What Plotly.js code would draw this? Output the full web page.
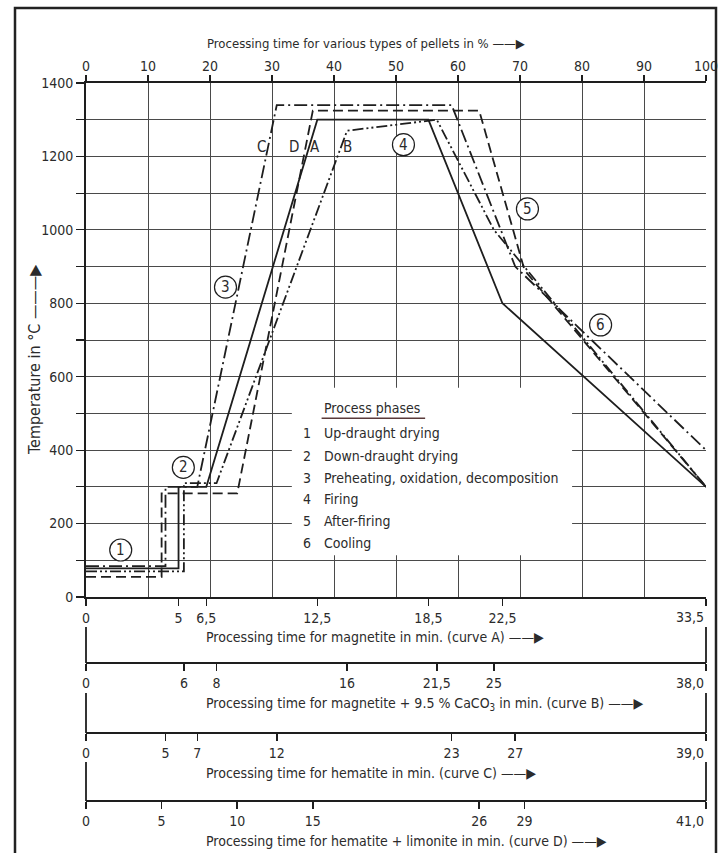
<!DOCTYPE html>
<html>
<head>
<meta charset="utf-8">
<script src="https://cdn.plot.ly/plotly-3.0.1.min.js"></script>
<style>
  html, body { margin: 0; padding: 0; background: #fff; }
  #chart { width: 718px; height: 853px; }
</style>
</head>
<body>
<div id="chart"></div>
<script>
// ---------- data ----------
// top scale: processing time in %
const pctTicks = [0, 10, 20, 30, 40, 50, 60, 70, 80, 90, 100];
const pctLabels = ['0', '10', '20', '30', '40', '50', '60', '70', '80', '90', '100'];

// temperature scale
const tempTicks = [0, 100, 200, 300, 400, 500, 600, 700, 800, 900, 1000, 1100, 1200, 1300, 1400];
const tempLabels = ['0', '', '200', '', '400', '', '600', '', '800', '', '1000', '', '1200', '', '1400'];

// curve A – magnetite (minutes, total 33.5)
const timeA = [0, 5, 5, 6.5, 12.5, 18.5, 22.5, 33.5];
const tempA = [78, 78, 300, 300, 1300, 1300, 800, 300];
const ticksA = [0, 5, 6.5, 12.5, 18.5, 22.5, 33.5];
const labelsA = ['0', '5', '6,5', '12,5', '18,5', '22,5', ' '];
const endA = '33,5';

// curve B – magnetite + 9.5 % CaCO3 (minutes, total 38)
const timeB = [0, 6, 6, 8, 16, 21.5, 25, 38];
const tempB = [70, 70, 310, 310, 1270, 1300, 1000, 300];
const ticksB = [0, 6, 8, 16, 21.5, 25, 38];
const labelsB = ['0', '6', '8', '16', '21,5', '25', ' '];
const endB = '38,0';

// curve C – hematite (minutes, total 39)
const timeC = [0, 5, 5, 7, 12, 23, 27, 39];
const tempC = [84, 84, 300, 300, 1340, 1340, 900, 400];
const ticksC = [0, 5, 7, 12, 23, 27, 39];
const labelsC = ['0', '5', '7', '12', '23', '27', ' '];
const endC = '39,0';

// curve D – hematite + limonite (minutes, total 41)
const timeD = [0, 5, 5, 10, 15, 26, 29, 41];
const tempD = [55, 55, 282, 282, 1325, 1325, 890, 300];
const ticksD = [0, 5, 10, 15, 26, 29, 41];
const labelsD = ['0', '5', '10', '15', '26', '29', ' '];
const endD = '41,0';

// process phases
const phaseNums = ['1', '2', '3', '4', '5', '6'];
const phaseNames = ['Up-draught drying', 'Down-draught drying', 'Preheating, oxidation, decomposition',
                    'Firing', 'After-firing', 'Cooling'];

// ---------- styling ----------
const FONT = 'DejaVu Sans Condensed, Liberation Sans Narrow, Arial Narrow, DejaVu Sans, sans-serif';
const FS = 14;
const INK = '#1e1e1e';
const TXT = '#2b2b2b';
const GRID = '#4a4a4a';
const ARROW = ' \u2014\u2014\u25B6';

function curve(x, y, xa, dash) {
  return {
    type: 'scatter', mode: 'lines', x: x, y: y, xaxis: xa, yaxis: 'y',
    line: { color: INK, width: 1.8, dash: dash },
    hoverinfo: 'skip', cliponaxis: false
  };
}

const traces = [
  // carrier for the top % scale (draws no mark)
  { type: 'scatter', mode: 'lines', x: [pctTicks[0], pctTicks[pctTicks.length - 1]], y: [null, null],
    xaxis: 'x2', yaxis: 'y', hoverinfo: 'skip', line: { width: 0 } },
  curve(timeA, tempA, 'x3', 'solid'),
  curve(timeB, tempB, 'x4', '11px,3px,2px,3px,2px,3px'),
  curve(timeC, tempC, 'x5', '13px,4px,2px,4px'),
  curve(timeD, tempD, 'x6', '10px,5px')
];

// plot area: x 86..706 px, y 83..801 px
const TOP = 83, BOT = 801, L = 86, R = 706;
const PH = BOT - TOP, PW = R - L;
const py = p => (BOT - p) / PH;   // pixel y -> paper
const px = p => (p - L) / PW;     // pixel x -> paper

function minAxis(range, ticks, labels, anchor, pos) {
  const ax = {
    overlaying: 'x', range: range, side: 'bottom',
    tickmode: 'array', tickvals: ticks, ticktext: labels,
    ticks: 'outside', ticklen: 7, tickwidth: 1.5, tickcolor: INK,
    showline: true, linecolor: INK, linewidth: 2,
    showgrid: false, zeroline: false,
    tickfont: { family: FONT, size: FS, color: TXT }
  };
  if (anchor === 'free') { ax.anchor = 'free'; ax.position = pos; } else { ax.anchor = anchor; }
  return ax;
}

const layout = {
  width: 718, height: 853,
  margin: { l: L, r: 718 - R, t: TOP, b: 853 - BOT, pad: 0 },
  paper_bgcolor: '#ffffff', plot_bgcolor: 'rgba(0,0,0,0)',
  showlegend: false, hovermode: false,
  font: { family: FONT, color: TXT, size: FS },
  xaxis: {
    domain: [0, 1], anchor: 'y', range: [0, 100],
    tickmode: 'array', tickvals: pctTicks, showticklabels: false, ticks: '',
    showgrid: true, gridcolor: GRID, gridwidth: 1, zeroline: false, showline: false
  },
  xaxis2: {
    overlaying: 'x', anchor: 'y', side: 'top', range: [0, 100],
    tickmode: 'array', tickvals: pctTicks, ticktext: pctLabels,
    ticks: 'outside', ticklen: 6, tickwidth: 1.2, tickcolor: INK,
    ticklabeloverflow: 'allow', ticklabelstandoff: -2,
    showline: true, linecolor: INK, linewidth: 2, showgrid: false, zeroline: false,
    tickfont: { family: FONT, size: FS, color: TXT }
  },
  xaxis3: minAxis([0, 33.5], ticksA, labelsA, 'y'),
  xaxis4: minAxis([0, 38], ticksB, labelsB, 'free', py(663)),
  xaxis5: minAxis([0, 39], ticksC, labelsC, 'free', py(733)),
  xaxis6: minAxis([0, 41], ticksD, labelsD, 'free', 0),
  yaxis: {
    domain: [py(597), 1], anchor: 'x', range: [0, 1400],
    tickmode: 'array', tickvals: tempTicks, ticktext: tempLabels,
    ticks: 'outside', ticklen: 8, tickwidth: 1.2, tickcolor: INK,
    showline: true, linecolor: INK, linewidth: 2,
    showgrid: true, gridcolor: GRID, gridwidth: 1, zeroline: false,
    tickfont: { family: FONT, size: FS, color: TXT }
  },
  shapes: [],
  annotations: []
};

// legend box (white, interrupts grid)
layout.shapes.push({ type: 'rect', xref: 'x', yref: 'y', x0: 33.2, x1: 78.4, y0: 114, y1: 570,
  fillcolor: '#ffffff', line: { width: 0 }, layer: 'between' });
// underline of legend heading
layout.shapes.push({ type: 'line', xref: 'x', yref: 'y', x0: 38.0, x1: 54.7, y0: 487, y1: 487,
  line: { color: '#5a3a3a', width: 1.5 }, layer: 'above' });

// circled phase numbers
const circlePos = [[5.6, 128], [15.7, 353], [22.5, 844], [51.2, 1232], [71.2, 1057], [83.0, 741]];
circlePos.forEach((p, i) => {
  layout.shapes.push({ type: 'circle', xref: 'x', yref: 'y', xsizemode: 'pixel', ysizemode: 'pixel',
    xanchor: p[0], yanchor: p[1], x0: -11, x1: 11, y0: -11, y1: 11,
    fillcolor: '#ffffff', line: { color: INK, width: 1.2 }, layer: 'between' });
  layout.annotations.push({ xref: 'x', yref: 'y', x: p[0], y: p[1], text: phaseNums[i],
    showarrow: false, font: { family: FONT, size: FS + 1, color: TXT }, xanchor: 'center', yanchor: 'middle' });
});

// curve letters
const letterPos = [['C', 28.3], ['D', 33.6], ['A', 36.9], ['B', 42.2]];
letterPos.forEach(p => {
  layout.annotations.push({ xref: 'x', yref: 'y', x: p[1], y: 1227, text: p[0], showarrow: false,
    font: { family: FONT, size: FS + 1, color: TXT }, xanchor: 'center', yanchor: 'middle' });
});

// legend text
layout.annotations.push({ xref: 'x', yref: 'y', x: 38.0, y: 515, text: 'Process phases', showarrow: false,
  xanchor: 'left', yanchor: 'middle', font: { family: FONT, size: FS, color: TXT } });
const legendY = [447, 384, 324, 267, 207, 147];
phaseNames.forEach((name, i) => {
  layout.annotations.push({ xref: 'x', yref: 'y', x: 35.6, y: legendY[i], text: phaseNums[i], showarrow: false,
    xanchor: 'center', yanchor: 'middle', font: { family: FONT, size: FS, color: TXT } });
  layout.annotations.push({ xref: 'x', yref: 'y', x: 38.0, y: legendY[i], text: name, showarrow: false,
    xanchor: 'left', yanchor: 'middle', font: { family: FONT, size: FS, color: TXT } });
});

// end labels of the minute scales (right-aligned at the scale end)
[['x3', 33.5, endA, 597], ['x4', 38, endB, 663], ['x5', 39, endC, 733], ['x6', 41, endD, 801]].forEach(e => {
  layout.annotations.push({ xref: e[0], yref: 'paper', x: e[1], y: py(e[3] + 10), text: e[2], showarrow: false,
    xanchor: 'right', yanchor: 'top', font: { family: FONT, size: FS, color: TXT } });
});

// scale titles
const titles = [
  ['Processing time for magnetite in min. (curve A)' + ARROW, 637],
  ['Processing time for magnetite + 9.5 % CaCO<sub>3</sub> in min. (curve B)' + ARROW, 704],
  ['Processing time for hematite in min. (curve C)' + ARROW, 773],
  ['Processing time for hematite + limonite in min. (curve D)' + ARROW, 841]
];
titles.forEach(t => {
  layout.annotations.push({ xref: 'paper', yref: 'paper', x: px(204), y: py(t[1]), text: t[0], showarrow: false,
    xanchor: 'left', yanchor: 'middle', font: { family: FONT, size: FS, color: TXT } });
});
layout.annotations.push({ xref: 'paper', yref: 'paper', x: px(205), y: py(44),
  text: 'Processing time for various types of pellets in %' + ARROW, showarrow: false,
  xanchor: 'left', yanchor: 'middle', font: { family: FONT, size: 13, color: TXT } });
layout.annotations.push({ xref: 'paper', yref: 'paper', x: px(35), y: py(360),
  text: 'Temperature in \u00B0C \u2014\u2014\u2014\u25B6', showarrow: false, textangle: -90,
  xanchor: 'center', yanchor: 'middle', font: { family: FONT, size: 16, color: TXT } });

// bracket lines joining the minute scales at both ends
[[627, 663], [693, 733], [762, 801]].forEach(s => {
  [0, 1].forEach(xp => {
    layout.shapes.push({ type: 'line', xref: 'paper', yref: 'paper', x0: xp, x1: xp, y0: py(s[0]), y1: py(s[1]),
      line: { color: INK, width: 1.8 }, layer: 'above' });
  });
});

// outer frame
layout.shapes.push({ type: 'rect', xref: 'paper', yref: 'paper',
  x0: px(15), x1: px(716), y0: py(870), y1: py(8),
  line: { color: '#222', width: 2.5 }, fillcolor: 'rgba(0,0,0,0)', layer: 'above' });

Plotly.newPlot('chart', traces, layout, { staticPlot: true, displayModeBar: false });
</script>
</body>
</html>
